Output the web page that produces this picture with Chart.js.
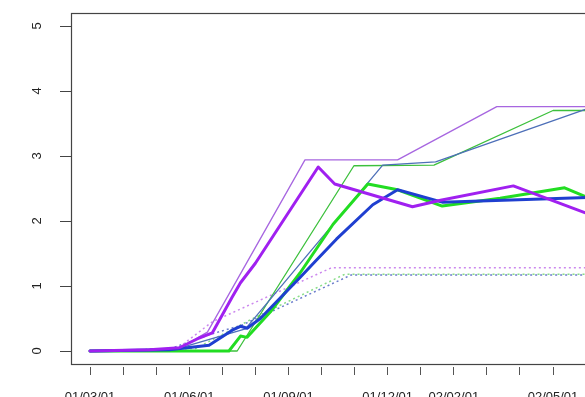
<!DOCTYPE html>
<html>
<head>
<meta charset="utf-8">
<script src="https://cdn.jsdelivr.net/npm/chart.js@4.4.1/dist/chart.umd.min.js"></script>
<style>
  html, body { margin: 0; padding: 0; background: #fff; overflow: hidden; }
  canvas { display: block; }
</style>
</head>
<body>
<canvas id="growth" width="650" height="397"></canvas>
<script>
// x values are months counted from 2001-03-01
const xTickMonths = [0, 1, 2, 3, 4, 5, 6, 7, 8, 9, 10, 11, 12, 13, 14, 15];
const xTickLabels = ['01/03/01', '', '', '01/06/01', '', '', '01/09/01', '', '',
                     '01/12/01', '', '02/02/01', '', '', '02/05/01', ''];
const yTicks = [0, 1, 2, 3, 4, 5];

// thick lines
const purpleMidX = [0, 1.8, 2.7, 3.3, 3.7, 4.3, 4.55, 5.0, 6.9, 7.4, 9.75, 10.6, 12.8, 15.0, 15.5];
const purpleMidY = [0, 0.02, 0.05, 0.2, 0.28, 0.83, 1.05, 1.35, 2.83, 2.57, 2.22, 2.32, 2.54, 2.12, 2.05];
const blueMidX = [0, 2.4, 3.6, 4.3, 4.55, 4.75, 5.15, 6.35, 6.85, 7.45, 8.55, 9.3, 10.65, 15.5];
const blueMidY = [0, 0.02, 0.09, 0.32, 0.38, 0.35, 0.5, 1.13, 1.4, 1.72, 2.25, 2.48, 2.29, 2.37];
const greenMidX = [0, 4.2, 4.55, 4.75, 5.45, 6.35, 7.35, 8.4, 9.3, 10.65, 12.4, 14.35, 15.0, 15.5];
const greenMidY = [0, 0, 0.23, 0.21, 0.6, 1.2, 1.95, 2.57, 2.48, 2.23, 2.35, 2.51, 2.37, 2.3];

// thin upper lines
const purpleHighX = [0, 2.7, 3.55, 6.5, 9.3, 12.3, 15.5];
const purpleHighY = [0, 0.04, 0.29, 2.94, 2.94, 3.76, 3.76];
const blueHighX = [0, 2.6, 4.7, 8.85, 10.45, 15.0, 15.5];
const blueHighY = [0, 0.03, 0.34, 2.86, 2.91, 3.72, 3.74];
const greenHighX = [0, 4.45, 7.98, 10.4, 14.0, 15.5];
const greenHighY = [0, 0, 2.85, 2.86, 3.7, 3.7];

// dotted lower lines
const purpleLowX = [0, 2.6, 3.7, 7.3, 15.5];
const purpleLowY = [0, 0.02, 0.45, 1.28, 1.28];
const blueLowX = [0, 2.4, 3.6, 4.6, 7.9, 15.5];
const blueLowY = [0, 0.03, 0.25, 0.4, 1.17, 1.17];
const greenLowX = [0, 3.2, 5.0, 7.7, 15.5];
const greenLowY = [0, 0.04, 0.52, 1.18, 1.18];

const pts = (xs, ys) => xs.map((x, i) => ({x: x, y: ys[i]}));

const line = (xs, ys, color, width, dash) => ({
  data: pts(xs, ys),
  borderColor: color,
  borderWidth: width,
  borderDash: dash || [],
  borderCapStyle: dash ? 'butt' : 'round',
  borderJoinStyle: 'round',
  pointRadius: 0,
  tension: 0,
  fill: false
});

const font = {family: "'Liberation Sans', Arial, sans-serif", size: 13};

// box around the plot region
const frame = {
  id: 'frame',
  afterDraw(chart) {
    const a = chart.chartArea, ctx = chart.ctx;
    ctx.save();
    ctx.strokeStyle = '#444';
    ctx.lineWidth = 1.2;
    ctx.strokeRect(Math.round(a.left) + 0.5, Math.round(a.top) + 0.5,
                   Math.round(a.right - a.left), Math.round(a.bottom - a.top));
    ctx.restore();
  }
};

new Chart(document.getElementById('growth'), {
  type: 'line',
  data: {
    datasets: [
      line(purpleMidX, purpleMidY, '#a020f0', 3),
      line(blueMidX, blueMidY, '#1f3fd0', 3),
      line(greenMidX, greenMidY, '#22dd22', 3),
      line(purpleHighX, purpleHighY, '#a766e0', 1.3),
      line(blueHighX, blueHighY, '#4d6fb8', 1.3),
      line(greenHighX, greenHighY, '#3cc03c', 1.3),
      line(purpleLowX, purpleLowY, '#cc88ee', 1.5, [2, 3]),
      line(blueLowX, blueLowY, '#6a7ccc', 1.5, [2, 3]),
      line(greenLowX, greenLowY, '#88dd88', 1.5, [2, 3])
    ]
  },
  options: {
    responsive: false,
    animation: false,
    layout: {padding: {left: 0, top: 13, right: 10, bottom: 0}},
    plugins: {legend: {display: false}, tooltip: {enabled: false}},
    scales: {
      x: {
        type: 'linear',
        min: -0.575,
        max: 16.63,
        afterBuildTicks: s => { s.ticks = xTickMonths.map(v => ({value: v})); },
        afterFit: s => { s.height = 33; s.paddingLeft = 0; s.paddingRight = 0; },
        border: {display: false},
        grid: {
          drawOnChartArea: false,
          color: '#555',
          tickLength: 11,
          tickBorderDash: [0, 3, 20, 10]
        },
        ticks: {
          autoSkip: false,
          maxRotation: 0,
          padding: 15,
          color: '#222',
          font: font,
          callback: (v, i) => xTickLabels[i]
        }
      },
      y: {
        type: 'linear',
        min: -0.2,
        max: 5.2,
        afterBuildTicks: s => { s.ticks = yTicks.map(v => ({value: v})); },
        afterFit: s => { s.width = 71; s.paddingTop = 0; s.paddingBottom = 0; },
        border: {display: false},
        grid: {drawOnChartArea: false, color: '#444', tickLength: 11},
        ticks: {
          minRotation: 90,
          maxRotation: 90,
          crossAlign: 'center',
          padding: 19,
          color: '#222',
          font: font
        }
      }
    }
  },
  plugins: [frame]
});
</script>
</body>
</html>
